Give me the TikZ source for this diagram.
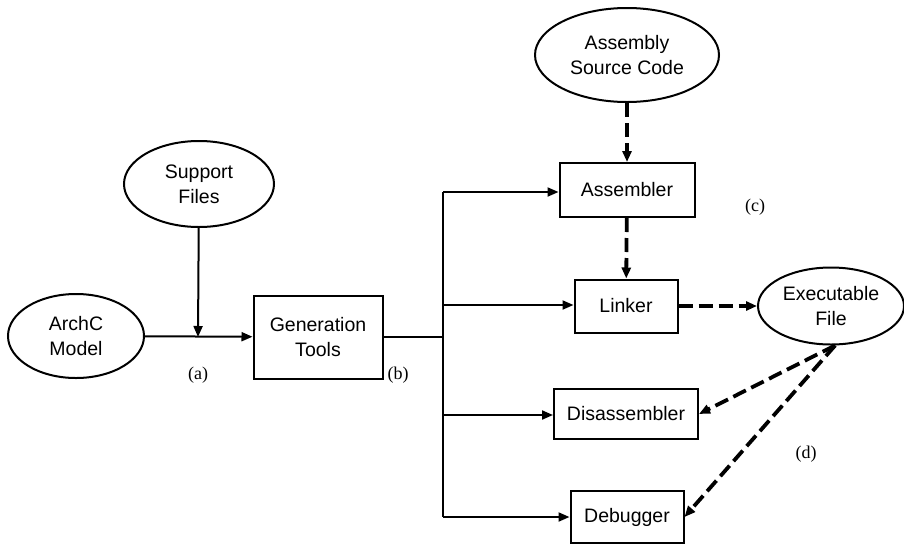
\documentclass[tikz,border=0pt]{standalone}
\usepackage{fontspec}
\setmainfont{Liberation Sans}
\newfontfamily\labelfont{Liberation Serif}
\usetikzlibrary{shapes.geometric,arrows.meta}

\begin{document}
\begin{tikzpicture}[x=1pt, y=-1pt,
    >={Triangle[length=11pt,width=9pt]},
    box/.style={draw, line width=2pt, rectangle, font=\fontsize{19.5}{25}\selectfont, align=center, inner sep=0pt},
    blob/.style={draw, line width=2pt, ellipse, font=\fontsize{19.5}{25}\selectfont, align=center, inner sep=0pt},
    flow/.style={->, line width=2pt},
    dflow/.style={->, line width=3.8pt, dash pattern=on 14pt off 6pt},
    tag/.style={font=\labelfont\fontsize{18}{20}\selectfont}]
    \useasboundingbox (0,0) rectangle (904,544);

    % entradas
    \node[blob, minimum width=150pt, minimum height=86pt] (support) at (199,184) {Support\\Files};
    \node[blob, minimum width=136pt, minimum height=84pt] (archc) at (76,336) {ArchC\\Model};
    \node[box, minimum width=129pt, minimum height=83pt] (gen) at (318,337) {Generation\\Tools};
    \node[blob, minimum width=184pt, minimum height=94pt] (asmsrc) at (627,55) {Assembly\\Source Code};

    % ferramentas
    \node[box, minimum width=135pt, minimum height=54pt] (asm) at (627,190) {Assembler};
    \node[box, minimum width=103pt, minimum height=53pt] (lnk) at (626,306) {Linker};
    \node[box, minimum width=144pt, minimum height=50pt] (dis) at (626,414) {Disassembler};
    \node[box, minimum width=113pt, minimum height=52pt] (dbg) at (627,517) {Debugger};
    \node[blob, minimum width=146pt, minimum height=77pt] (exe) at (831,306) {Executable\\File};

    % rotulos
    \node[tag] (la) at (198,375) {(a)};
    \node[tag] (lb) at (398,375) {(b)};
    \node[tag] (lc) at (755,207) {(c)};
    \node[tag] (ld) at (806,454) {(d)};

    % barramento
    \coordinate (join) at (198,337);
    \coordinate (busa) at (443,192);
    \coordinate (busg) at (443,337);
    \coordinate (busl) at (443,305);
    \coordinate (busd) at (443,415);
    \coordinate (busb) at (443,517);

    \draw[flow] (archc) -- (gen);
    \draw[flow] (support) -- (join);
    \draw[line width=2pt] (gen.east) -- (busg);
    \draw[line width=2pt] (busa) -- (busb);
    \draw[flow] (busa) -- (busa -| asm.west);
    \draw[flow] (busl) -- (busl -| lnk.west);
    \draw[flow] (busd) -- (busd -| dis.west);
    \draw[flow] (busb) -- (dbg.west);

    % fluxo tracejado
    \draw[dflow] (asmsrc) -- (asm);
    \draw[dflow] (asm) -- (lnk);
    \draw[dflow] (lnk) -- (exe);
    \draw[dflow] (exe.-84) -- (dis.east);
    \draw[dflow] (exe.-84) -- (dbg.east);
\end{tikzpicture}
\end{document}
